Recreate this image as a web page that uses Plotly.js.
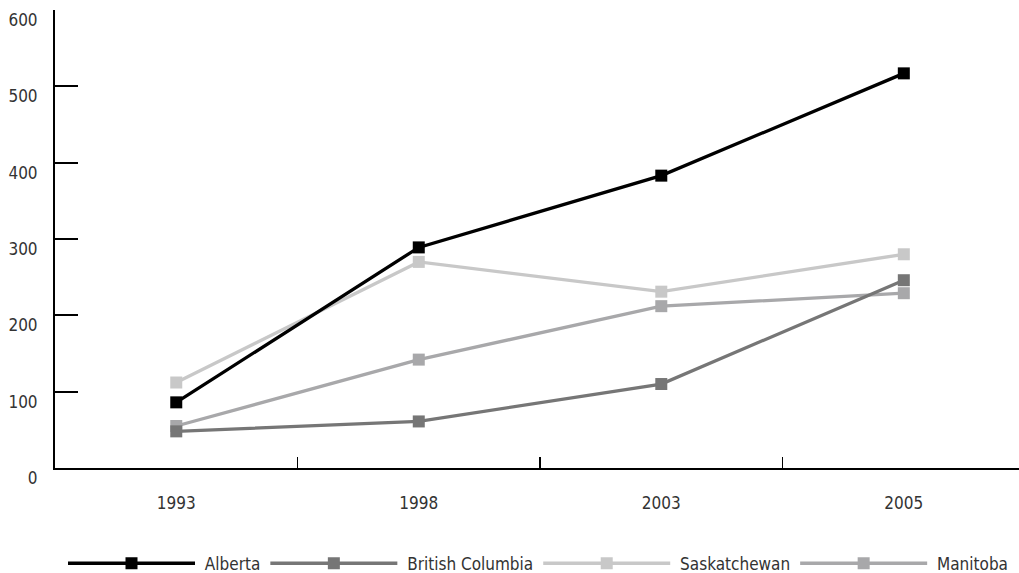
<!DOCTYPE html>
<html>
<head>
<meta charset="utf-8">
<script src="https://cdn.plot.ly/plotly-3.0.1.min.js"></script>
<style>
html,body{margin:0;padding:0;background:#fff;}
#chart{width:1019px;height:573px;}
svg text{font-stretch:condensed !important;}
</style>
</head>
<body>
<div id="chart"></div>
<script>
const years = ["1993", "1998", "2003", "2005"];
const alberta = [86, 289, 383, 517];
const britishColumbia = [48, 61, 110, 246];
const saskatchewan = [112, 270, 231, 280];
const manitoba = [55, 142, 212, 229];
const yTicks = [0, 100, 200, 300, 400, 500, 600];
const seriesNames = ["Alberta", "British Columbia", "Saskatchewan", "Manitoba"];

const FONT = "'DejaVu Sans Condensed', 'DejaVu Sans', sans-serif";

function series(name, y, color, rank) {
  return {
    type: "scatter", mode: "lines+markers", name: "\u00a0" + name,
    x: years, y: y, legendrank: rank,
    line: {color: color, width: 3.3},
    marker: {symbol: "square", size: 12, color: color},
    cliponaxis: false
  };
}

const data = [
  series(seriesNames[2], saskatchewan, "#c8c8c8", 3),
  series(seriesNames[3], manitoba, "#a8a8aa", 4),
  series(seriesNames[1], britishColumbia, "#767676", 2),
  series(seriesNames[0], alberta, "#000000", 1)
];

const layout = {
  width: 1019, height: 573,
  margin: {l: 55, r: 0, t: 10, b: 105, autoexpand: false},
  paper_bgcolor: "#ffffff", plot_bgcolor: "#ffffff",
  font: {family: FONT, size: 17, color: "#333333"},
  showlegend: true,
  legend: {
    orientation: "h", x: 0.0083, xanchor: "left", y: -0.209, yanchor: "middle",
    itemwidth: 127, font: {family: FONT, size: 17, color: "#333333"},
    bgcolor: "rgba(0,0,0,0)", itemclick: false
  },
  xaxis: {
    type: "category", range: [-0.5, 3.475],
    showline: true, linecolor: "#000", linewidth: 2,
    showgrid: false, zeroline: false,
    ticks: "inside", tickson: "boundaries", ticklen: 11, tickwidth: 1.5, tickcolor: "#000",
    ticklabelstandoff: 19,
    tickfont: {family: FONT, size: 17, color: "#333333"}
  },
  yaxis: {
    range: [0, 600], tickvals: yTicks, ticktext: yTicks.map(String),
    showline: true, linecolor: "#000", linewidth: 2,
    showgrid: false, zeroline: false,
    ticks: "inside", ticklen: 23, tickwidth: 2, tickcolor: "#000",
    ticklabelshift: 10, ticklabelstandoff: 12,
    tickfont: {family: FONT, size: 17, color: "#333333"}
  }
};

Plotly.newPlot("chart", data, layout, {staticPlot: true, displayModeBar: false});
</script>
</body>
</html>
